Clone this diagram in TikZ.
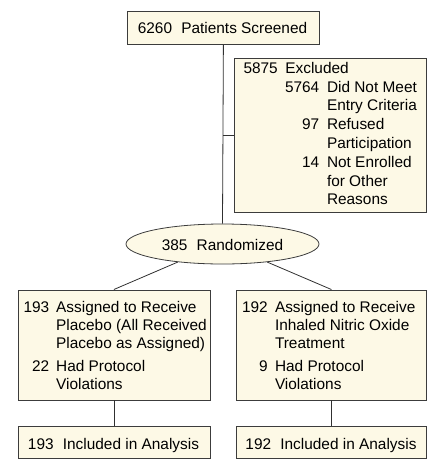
\documentclass[tikz,border=0pt]{standalone}
\usepackage{fontspec}
\setmainfont{Liberation Sans}
\usetikzlibrary{shapes.geometric}
\definecolor{boxfill}{HTML}{FDF9E6}
\definecolor{boxline}{HTML}{3C3C3C}
\definecolor{lineclr}{HTML}{303030}
\begin{document}
\begin{tikzpicture}[x=1pt,y=-1pt,
  every node/.style={font=\fontsize{15.4}{18}\selectfont},
  box/.style={draw=boxline, fill=boxfill, line width=0.8pt, inner sep=0pt, anchor=north west},
  oval/.style={ellipse, draw=boxline, fill=boxfill, line width=0.8pt, inner sep=0pt},
  conn/.style={draw=lineclr, line width=0.8pt},
  txt/.style={inner sep=0pt, anchor=base west},
  num/.style={inner sep=0pt, anchor=base east},
  ctr/.style={inner sep=0pt, anchor=base}]
\useasboundingbox (0,0) rectangle (427,459);
% boxes
\node[box, minimum width=192pt, minimum height=33pt] (top) at (127,11) {};
\node[box, minimum width=192pt, minimum height=154pt] (excl) at (234,58) {};
\node[oval, minimum width=193pt, minimum height=40pt] (rand) at (222.5,244) {};
\node[box, minimum width=192pt, minimum height=110pt] (left) at (17.5,289.5) {};
\node[box, minimum width=190pt, minimum height=110pt] (right) at (236,289.5) {};
\node[box, minimum width=192pt, minimum height=32pt] (bl) at (17.5,426) {};
\node[box, minimum width=190pt, minimum height=32pt] (br) at (236,426) {};
% connectors
\coordinate (j) at (223,135);
\draw[conn] (top.south) -- (rand.north);
\draw[conn] (j) -- (excl.west |- j);
\draw[conn] (rand.202) -- (left.north);
\draw[conn] (rand.-22) -- (right.north);
\draw[conn] (left.south) -- (bl.north);
\draw[conn] (right.south) -- (br.north);
% top text
\node[ctr] (ttop) at (222.5,33) {6260\hspace{0.6em}Patients Screened};
% excluded text
\node[num] (e0n) at (278,73.3) {5875};
\node[txt] (e0t) at (285.2,73.3) {Excluded};
\node[num] (e1n) at (319.5,92.1) {5764};
\node[txt] (e1t) at (326.8,92.1) {Did Not Meet};
\node[txt] (e1u) at (326.8,110.9) {Entry Criteria};
\node[num] (e2n) at (319.5,129.7) {97};
\node[txt] (e2t) at (326.8,129.7) {Refused};
\node[txt] (e2u) at (326.8,148.5) {Participation};
\node[num] (e3n) at (319.5,167.3) {14};
\node[txt] (e3t) at (326.8,167.3) {Not Enrolled};
\node[txt] (e3u) at (326.8,186.1) {for Other};
\node[txt] (e3v) at (326.8,204.9) {Reasons};
% randomized
\node[ctr] (trand) at (222.5,250.5) {385\hspace{0.6em}Randomized};
% left box text
\node[num] (l0n) at (49.5,312.5) {193};
\node[txt] (l0t) at (56,312.5) {Assigned to Receive};
\node[txt] (l0u) at (56,330.7) {Placebo (All Received};
\node[txt] (l0v) at (56,348.9) {Placebo as Assigned)};
\node[num] (l1n) at (49.5,371) {22};
\node[txt] (l1t) at (56,371) {Had Protocol};
\node[txt] (l1u) at (56,389.2) {Violations};
% right box text
\node[num] (r0n) at (268,312.5) {192};
\node[txt] (r0t) at (274.8,312.5) {Assigned to Receive};
\node[txt] (r0u) at (274.8,330.7) {Inhaled Nitric Oxide};
\node[txt] (r0v) at (274.8,348.9) {Treatment};
\node[num] (r1n) at (268,371) {9};
\node[txt] (r1t) at (274.8,371) {Had Protocol};
\node[txt] (r1u) at (274.8,389.2) {Violations};
% bottom
\node[ctr] (tbl) at (113.5,449) {193\hspace{0.6em}Included in Analysis};
\node[ctr] (tbr) at (331,449) {192\hspace{0.6em}Included in Analysis};
\end{tikzpicture}
\end{document}
